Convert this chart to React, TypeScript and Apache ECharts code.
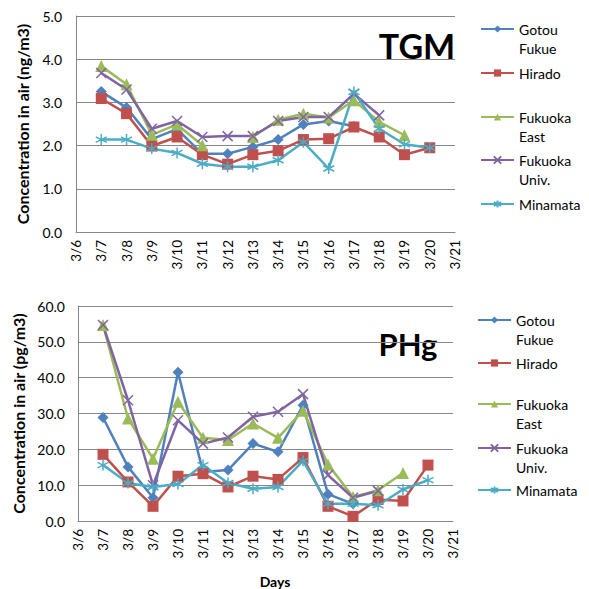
import React, { useEffect, useRef } from "react";
import * as echarts from "echarts";

const categories = ["3/6", "3/7", "3/8", "3/9", "3/10", "3/11", "3/12", "3/13", "3/14", "3/15", "3/16", "3/17", "3/18", "3/19", "3/20", "3/21"];

const seriesNames = ["Gotou Fukue", "Hirado", "Fukuoka East", "Fukuoka Univ.", "Minamata"];

// TGM (ng/m3)
const tgmGotou = [null, 3.25, 2.88, 2.15, 2.38, 1.81, 1.81, 1.97, 2.14, 2.49, 2.57, 2.45, null, null, null, null];
const tgmHirado = [null, 3.09, 2.74, 1.99, 2.2, 1.79, 1.57, 1.79, 1.88, 2.14, 2.16, 2.43, 2.2, 1.79, 1.95, null];
const tgmFukuokaEast = [null, 3.84, 3.42, 2.25, 2.49, 2.01, null, 2.2, 2.6, 2.74, 2.65, 3.05, 2.55, 2.24, null, null];
const tgmFukuokaUniv = [null, 3.68, 3.3, 2.39, 2.57, 2.2, 2.22, 2.22, 2.57, 2.66, 2.66, 3.2, 2.7, null, null, null];
const tgmMinamata = [null, 2.14, 2.14, 1.93, 1.83, 1.58, 1.51, 1.51, 1.66, 2.08, 1.47, 3.24, 2.39, 2.03, 1.95, null];

// PHg (pg/m3)
const phgGotou = [null, 28.9, 15.1, 6.5, 41.5, 13.7, 14.2, 21.6, 19.3, 32.3, 7.5, 4.8, null, null, null, null];
const phgHirado = [null, 18.6, 10.9, 4.1, 12.5, 13.2, 9.5, 12.5, 11.6, 17.7, 4.1, 1.3, 6.0, 5.6, 15.6, null];
const phgFukuokaEast = [null, 54.7, 28.6, 17.4, 33.3, 23.2, 22.6, 27.2, 23.2, 30.8, 15.8, 6.7, 8.6, 13.4, null, null];
const phgFukuokaUniv = [null, 54.7, 33.7, 10.0, 28.1, 21.6, 23.3, 29.1, 30.5, 35.4, 12.8, 6.5, 8.4, null, null, null];
const phgMinamata = [null, 15.6, 10.6, 9.5, 10.3, 15.6, 10.6, 9.0, 9.5, 16.8, 4.8, 4.8, 4.4, 8.8, 11.4, null];

const colors = ["#4F81BD", "#C0504D", "#9BBB59", "#8064A2", "#4BACC6"];
const symbols = [
  "diamond",
  "rect",
  "triangle",
  "path://M0,0L10,10M10,0L0,10",
  "path://M5,0L5,10M0,2.5L10,7.5M0,7.5L10,2.5",
];
const symbolSizes = [11, 11, 12, 10, 11];

const FONT = "Lato, 'Open Sans', sans-serif";
const GRAY = "#868686";

export default function App() {
  const ref = useRef<HTMLDivElement>(null);
  useEffect(() => {
    if (!ref.current) return;
    const chart = echarts.init(ref.current, null, { renderer: "svg" });

    const tgmData = [tgmGotou, tgmHirado, tgmFukuokaEast, tgmFukuokaUniv, tgmMinamata];
    const phgData = [phgGotou, phgHirado, phgFukuokaEast, phgFukuokaUniv, phgMinamata];

    const makeSeries = (data: (number | null)[][], idx: number) =>
      data.map((d, i) => {
        const isStroke = i >= 3;
        return {
          type: "line",
          name: seriesNames[i],
          xAxisIndex: idx,
          yAxisIndex: idx,
          data: d,
          connectNulls: false,
          symbol: symbols[i],
          symbolSize: symbolSizes[i],
          showAllSymbol: true,
          lineStyle: { color: colors[i], width: 2.5 },
          itemStyle: isStroke
            ? { color: colors[i], borderColor: colors[i], borderWidth: 1.5 }
            : { color: colors[i], borderWidth: 0 },
          emphasis: { disabled: true },
        };
      });

    const legendTops = [
      [0.5, 63.5, 88.5, 131.5, 194.5],
      [291.5, 353.5, 375.5, 419.5, 480.5],
    ];
    const legendLefts = [480, 477];
    const legends: any[] = [];
    for (let c = 0; c < 2; c++) {
      for (let i = 0; i < 5; i++) {
        legends.push({
          data: [seriesNames[i]],
          left: legendLefts[c],
          top: legendTops[c][i],
          orient: "vertical",
          itemWidth: 33,
          itemHeight: 9,
          selectedMode: false,
          padding: 0,
          formatter: (name: string) => (name.indexOf(" ") >= 0 ? "\n" + name.replace(" ", "\n") : name),
          textStyle: { fontFamily: FONT, fontSize: 14, color: "#000", lineHeight: 19 },
        });
      }
    }

    const xAxisBase = {
      type: "category",
      data: categories,
      boundaryGap: false,
      axisTick: { show: false },
      axisLine: { lineStyle: { color: GRAY, width: 1 } },
      axisLabel: { rotate: 90, fontFamily: FONT, fontSize: 13.5, color: "#000", margin: 8, interval: 0 },
      splitLine: { show: false },
    };
    const yAxisBase = {
      type: "value",
      axisTick: { show: false },
      axisLine: { show: true, lineStyle: { color: GRAY, width: 1 } },
      splitLine: { show: true, lineStyle: { color: GRAY, width: 1 } },
      nameLocation: "middle",
      nameRotate: 90,
      nameTextStyle: { fontFamily: FONT, fontSize: 16, fontWeight: "bold", color: "#000" },
    };

    chart.setOption({
      animation: false,
      legend: legends,
      grid: [
        { left: 76, top: 16, width: 379, height: 216 },
        { left: 78, top: 306, width: 375, height: 215 },
      ],
      xAxis: [
        { ...xAxisBase, gridIndex: 0 },
        { ...xAxisBase, gridIndex: 1 },
      ],
      yAxis: [
        {
          ...yAxisBase,
          gridIndex: 0,
          min: 0,
          max: 5,
          interval: 1,
          name: "Concentration in air (ng/m3)",
          nameGap: 46,
          axisLabel: { fontFamily: FONT, fontSize: 14, color: "#000", margin: 14, formatter: (v: number) => v.toFixed(1) },
        },
        {
          ...yAxisBase,
          gridIndex: 1,
          min: 0,
          max: 60,
          interval: 10,
          name: "Concentration in air (pg/m3)",
          nameGap: 48,
          axisLabel: { fontFamily: FONT, fontSize: 14, color: "#000", margin: 13, formatter: (v: number) => v.toFixed(1) },
        },
      ],
      graphic: [
        {
          type: "text",
          x: 417,
          y: 45,
          style: { text: "TGM", font: `bold 34px ${FONT}`, fill: "#000", textAlign: "center", textVerticalAlign: "middle" },
        },
        {
          type: "text",
          x: 408,
          y: 344,
          style: { text: "PHg", font: `bold 31px ${FONT}`, fill: "#000", textAlign: "center", textVerticalAlign: "middle" },
        },
        {
          type: "text",
          x: 275,
          y: 581,
          style: { text: "Days", font: `bold 14px ${FONT}`, fill: "#000", textAlign: "center", textVerticalAlign: "middle" },
        },
      ],
      series: [...makeSeries(tgmData, 0), ...makeSeries(phgData, 1)],
    });

    return () => chart.dispose();
  }, []);

  return <div ref={ref} style={{ position: "fixed", left: 0, top: 0, width: 589, height: 589, background: "#fff" }} />;
}
